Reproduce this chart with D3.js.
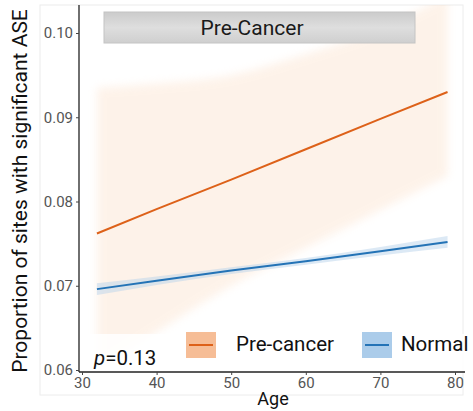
<!DOCTYPE html>
<html><head><meta charset="utf-8">
<script src="https://cdn.jsdelivr.net/npm/d3@7"></script>
<style>body{margin:0;background:#fff;}svg{display:block;font-family:Roboto,"Noto Sans",sans-serif;}</style>
</head><body>
<svg id="c" width="473" height="411"></svg>
<script>
const ages = [32, 40, 50, 60, 70, 79];
const preFit   = [0.0762, 0.0791, 0.0826, 0.0862, 0.0898, 0.0930];
const preUpper = [0.0935, 0.0940, 0.0950, 0.0975, 0.1005, 0.1045];
const preLower = [0.0600, 0.0645, 0.0700, 0.0745, 0.0790, 0.0830];
const norFit   = [0.0696, 0.0706, 0.0718, 0.0729, 0.0741, 0.0752];
const norUpper = [0.0703, 0.0711, 0.0722, 0.0733, 0.0746, 0.0759];
const norLower = [0.0689, 0.0701, 0.0714, 0.0725, 0.0736, 0.0745];
const xTicks = [30, 40, 50, 60, 70, 80];
const yTicks = [0.06, 0.07, 0.08, 0.09, 0.10];
const yTickLabels = ["0.06", "0.07", "0.08", "0.09", "0.10"];
const legendLabels = ["Pre-cancer", "Normal"];
const panelTitle = "Pre-Cancer";
const pText = "0.13";

(function () {
const svg = d3.select("#c");
const x = d3.scaleLinear().domain([30, 80]).range([82, 455]);
const y = d3.scaleLinear().domain([0.06, 0.10]).range([370, 33]);
const pL = 79, pR = 465, pT = 5, pB = 372;

svg.append("rect").attr("x", 40).attr("y", 5).attr("width", 423).attr("height", 390)
  .attr("fill", "none").attr("stroke", "#ececec").attr("stroke-width", 1);

const defs = svg.append("defs");
defs.append("clipPath").attr("id", "pc").append("rect")
  .attr("x", pL).attr("y", pT).attr("width", pR - pL).attr("height", pB - pT);
defs.append("filter").attr("id", "bl").attr("x", "-10%").attr("y", "-10%").attr("width", "120%").attr("height", "120%")
  .append("feGaussianBlur").attr("stdDeviation", 4);
const g = svg.append("g").attr("clip-path", "url(#pc)");

const pre = ages.map((a, i) => ({a, f: preFit[i], lo: preLower[i], hi: preUpper[i]}));
const nor = ages.map((a, i) => ({a, f: norFit[i], lo: norLower[i], hi: norUpper[i]}));
const area = d3.area().x(d => x(d.a)).y0(d => y(d.lo)).y1(d => y(d.hi)).curve(d3.curveMonotoneX);
const line = d3.line().x(d => x(d.a)).y(d => y(d.f));

g.append("path").datum(pre).attr("d", area).attr("fill", "#fbd9bd").attr("opacity", 0.32).attr("filter", "url(#bl)");
g.append("path").datum(nor).attr("d", area).attr("fill", "#b9d3ec").attr("opacity", 0.5);

svg.append("rect").attr("x", 80).attr("y", 334).attr("width", 385).attr("height", 37)
  .attr("fill", "#fff").attr("opacity", 0.85);

g.append("path").datum(pre).attr("d", line).attr("fill", "none").attr("stroke", "#dd6119").attr("stroke-width", 2);
g.append("path").datum(nor).attr("d", line).attr("fill", "none").attr("stroke", "#2473b6").attr("stroke-width", 2);

const sg = defs.append("linearGradient").attr("id", "sgr").attr("x1", 0).attr("x2", 0).attr("y1", 0).attr("y2", 1);
sg.append("stop").attr("offset", "0%").attr("stop-color", "#cbcbcb");
sg.append("stop").attr("offset", "50%").attr("stop-color", "#dedede");
sg.append("stop").attr("offset", "100%").attr("stop-color", "#cfcfcf");
svg.append("rect").attr("x", 104).attr("y", 12).attr("width", 311).attr("height", 31)
  .attr("fill", "url(#sgr)").attr("stroke", "#c4c4c4").attr("stroke-width", 1);
svg.append("text").attr("x", 252).attr("y", 35).attr("text-anchor", "middle")
  .attr("font-size", 21).attr("fill", "#1a1a1a").text(panelTitle);

const xa = svg.append("g").attr("transform", `translate(0,${pB})`)
  .call(d3.axisBottom(x).tickValues(xTicks).tickSize(3).tickPadding(2));
xa.select(".domain").attr("d", `M${pL},0H${pR}`).attr("stroke", "#222").attr("stroke-width", 1.3);
xa.selectAll("text").attr("font-size", 15).attr("fill", "#555").attr("font-family", "Roboto, sans-serif");
xa.selectAll("line").attr("stroke", "#444");

const ya = svg.append("g").attr("transform", `translate(${pL},0)`)
  .call(d3.axisLeft(y).tickValues(yTicks).tickFormat((d, i) => yTickLabels[i]).tickSize(3).tickPadding(3));
ya.select(".domain").attr("d", `M0,${pT}V${pB}`).attr("stroke", "#222").attr("stroke-width", 1.3);
ya.selectAll("text").attr("font-size", 15).attr("fill", "#555").attr("font-family", "Roboto, sans-serif");
ya.selectAll("line").attr("stroke", "#444");

svg.append("text").attr("x", 273).attr("y", 405).attr("text-anchor", "middle")
  .attr("font-size", 18).attr("fill", "#111").text("Age");
svg.append("text").attr("transform", "translate(27,191) rotate(-90)").attr("text-anchor", "middle")
  .attr("font-size", 21).attr("fill", "#111").text("Proportion of sites with significant ASE");

const pt = svg.append("text").attr("x", 94).attr("y", 365).attr("font-size", 20.5).attr("fill", "#111");
pt.append("tspan").attr("font-style", "italic").text("p");
pt.append("tspan").text("=" + pText);

const keys = [{x: 186, col: "#dd6119", fill: "#f4b184", tx: 236}, {x: 362, col: "#2473b6", fill: "#9cc3e6", tx: 401}];
keys.forEach((k, i) => {
  svg.append("rect").attr("x", k.x).attr("y", 332).attr("width", 30).attr("height", 26).attr("fill", k.fill).attr("opacity", 0.85);
  svg.append("line").attr("x1", k.x + 3).attr("x2", k.x + 27).attr("y1", 345).attr("y2", 345).attr("stroke", k.col).attr("stroke-width", 2);
  svg.append("text").attr("x", k.tx).attr("y", 351).attr("font-size", 20.5).attr("fill", "#111").text(legendLabels[i]);
});
})();
</script>
</body></html>
